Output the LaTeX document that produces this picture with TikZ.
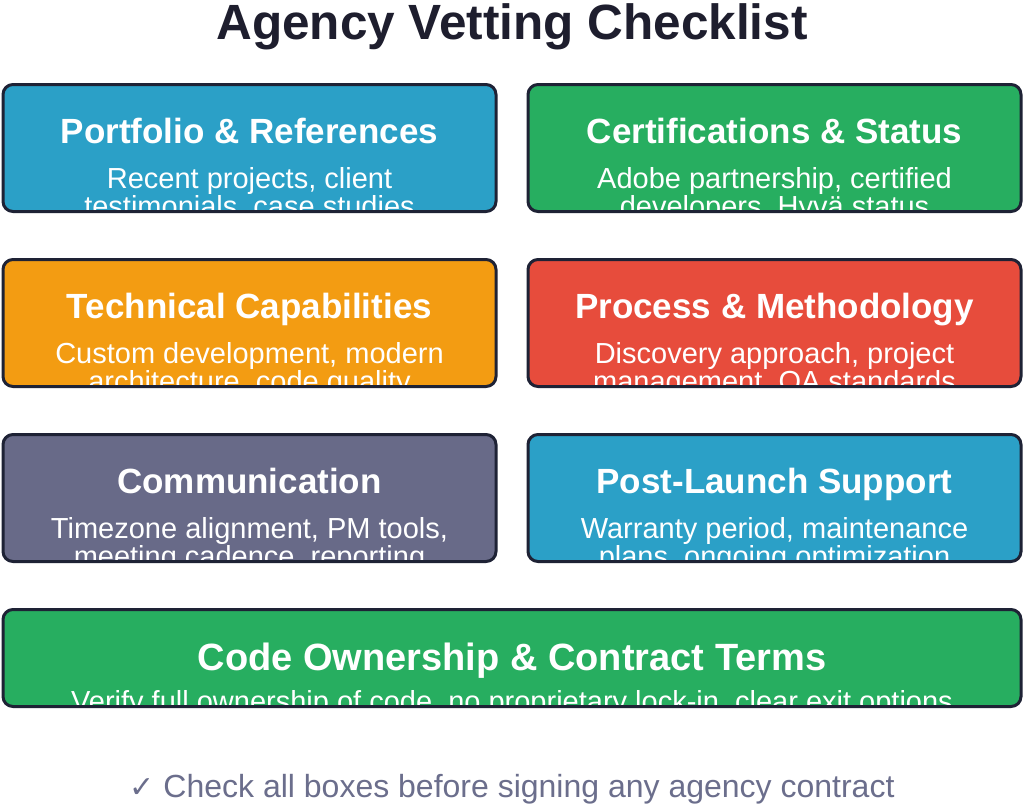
\documentclass[tikz,border=0pt]{standalone}
\usepackage{fontspec}
\setmainfont{Liberation Sans}
\newfontfamily\symfont{DejaVu Sans}
\definecolor{cblue}{HTML}{2BA0C7}
\definecolor{cgreen}{HTML}{27AE60}
\definecolor{corange}{HTML}{F39C12}
\definecolor{cred}{HTML}{E74C3C}
\definecolor{cslate}{HTML}{686A88}
\definecolor{cborder}{HTML}{1E2235}
\definecolor{ctitle}{HTML}{1E1E2E}
\definecolor{cfoot}{HTML}{6B6E8C}
\tikzset{
  card/.style={rectangle, rounded corners=10pt, inner sep=0pt, outer sep=0pt},
  cardline/.style={draw=cborder, line width=3pt, rounded corners=10pt},
  head/.style={anchor=base, text=white, font=\fontsize{35}{35}\selectfont\bfseries, inner sep=0pt},
  bighead/.style={head, font=\fontsize{38}{38}\selectfont\bfseries},
  desc/.style={anchor=base, text=white, font=\fontsize{29}{29}\selectfont, inner sep=0pt},
}
\begin{document}
\begin{tikzpicture}[x=1pt,y=-1pt]
\useasboundingbox (0,0) rectangle (1024,804);
\fill[white] (0,0) rectangle (1024,804);
\node[anchor=base, text=ctitle, font=\fontsize{49.5}{49.5}\selectfont\bfseries, inner sep=0pt] (title) at (512,39) {Agency Vetting Checklist};
% cards
\node[card, fill=cblue,   minimum width=493pt, minimum height=127pt] (c1) at (249.5,148) {};
\node[card, fill=cgreen,  minimum width=493pt, minimum height=127pt] (c2) at (774.5,148) {};
\node[card, fill=corange, minimum width=493pt, minimum height=127pt] (c3) at (249.5,323) {};
\node[card, fill=cred,    minimum width=493pt, minimum height=127pt] (c4) at (774.5,323) {};
\node[card, fill=cslate,  minimum width=493pt, minimum height=127pt] (c5) at (249.5,498) {};
\node[card, fill=cblue,   minimum width=493pt, minimum height=127pt] (c6) at (774.5,498) {};
\node[card, fill=cgreen,  minimum width=1018pt, minimum height=97pt] (c7) at (512,658) {};
% texts clipped to cards
\begin{scope}
\clip (c1.south west) rectangle (c1.north east);
\node[head] (h1) at (249.5,143) {Portfolio \& References};
\node[desc] (d1a) at (249.5,188) {Recent projects, client};
\node[desc] (d1b) at (249.5,216) {testimonials, case studies};
\end{scope}
\begin{scope}
\clip (c2.south west) rectangle (c2.north east);
\node[head] (h2) at (774.5,143) {Certifications \& Status};
\node[desc] (d2a) at (774.5,188) {Adobe partnership, certified};
\node[desc] (d2b) at (774.5,216) {developers, Hyvä status};
\end{scope}
\begin{scope}
\clip (c3.south west) rectangle (c3.north east);
\node[head] (h3) at (249.5,318) {Technical Capabilities};
\node[desc] (d3a) at (249.5,363) {Custom development, modern};
\node[desc] (d3b) at (249.5,391) {architecture, code quality};
\end{scope}
\begin{scope}
\clip (c4.south west) rectangle (c4.north east);
\node[head] (h4) at (774.5,318) {Process \& Methodology};
\node[desc] (d4a) at (774.5,363) {Discovery approach, project};
\node[desc] (d4b) at (774.5,391) {management, QA standards};
\end{scope}
\begin{scope}
\clip (c5.south west) rectangle (c5.north east);
\node[head] (h5) at (249.5,493) {Communication};
\node[desc] (d5a) at (249.5,538) {Timezone alignment, PM tools,};
\node[desc] (d5b) at (249.5,566) {meeting cadence, reporting};
\end{scope}
\begin{scope}
\clip (c6.south west) rectangle (c6.north east);
\node[head] (h6) at (774.5,493) {Post-Launch Support};
\node[desc] (d6a) at (774.5,538) {Warranty period, maintenance};
\node[desc] (d6b) at (774.5,566) {plans, ongoing optimization};
\end{scope}
\begin{scope}
\clip (c7.south west) rectangle (c7.north east);
\node[bighead] (h7) at (512,670) {Code Ownership \& Contract Terms};
\node[desc] (d7a) at (512,711) {Verify full ownership of code, no proprietary lock-in, clear exit options};
\end{scope}
% borders
\foreach \c in {c1,c2,c3,c4,c5,c6,c7}
  \draw[cardline] (\c.south west) rectangle (\c.north east);
% footer
\node[anchor=base, text=cfoot, font=\fontsize{32}{32}\selectfont, inner sep=0pt] (foot) at (512,797) {{\symfont\fontsize{30}{30}\selectfont ✓} Check all boxes before signing any agency contract};
\end{tikzpicture}
\end{document}
